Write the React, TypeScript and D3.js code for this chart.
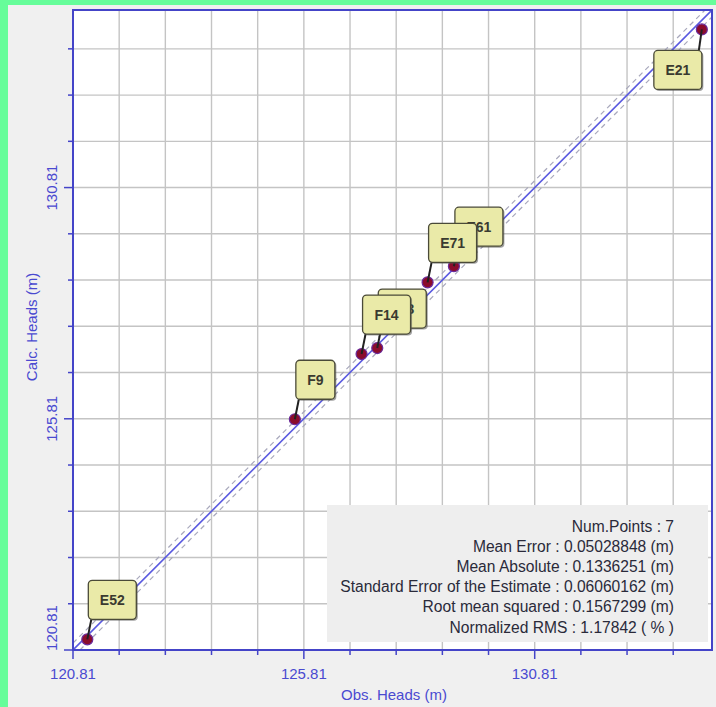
import React from "react";
import * as d3 from "d3";

// Observation wells: name, observed head, calculated head (m)
const wellNames = ["E52", "F9", "F13", "F14", "E61", "E71", "E21"];
const obsHeads = [121.12, 125.615, 127.40, 127.06, 129.06, 128.49, 134.43];
const calcHeads = [121.04, 125.80, 127.34, 127.21, 129.11, 128.76, 134.23];

const majorTicks = [120.81, 125.81, 130.81];
const minorTicks = d3.range(0, 14).map((i) => 120.81 + i);

const statLines = [
  "Num.Points : 7",
  "Mean Error : 0.05028848 (m)",
  "Mean Absolute : 0.1336251 (m)",
  "Standard Error of the Estimate : 0.06060162 (m)",
  "Root mean squared : 0.1567299 (m)",
  "Normalized RMS : 1.17842 ( % )",
];

const bandOffset = 0.15;
const domainMin = 120.81;
const domainMax = 134.65;

const W = 716;
const H = 707;
const plot = { left: 73, top: 10, right: 712, bottom: 650 };
const axisBlue = "#4444c8";
const labelBlue = "#4a4ad0";
const font = "Arial, 'Liberation Sans', sans-serif";

export default function App() {
  const x = d3.scaleLinear().domain([domainMin, domainMax]).range([plot.left, plot.right]);
  const y = d3.scaleLinear().domain([domainMin, domainMax]).range([plot.bottom, plot.top]);

  const diag = d3.line<number>().x((v) => x(v)).y((v) => y(v));
  const upper = d3.line<number>().x((v) => x(v)).y((v) => y(v + bandOffset));
  const lower = d3.line<number>().x((v) => x(v)).y((v) => y(v - bandOffset));
  const ends = [domainMin, domainMax];
  const upperEnds = [domainMin, domainMax - bandOffset];
  const lowerEnds = [domainMin + bandOffset, domainMax];

  const boxH = 39;
  const labels = wellNames.map((name, i) => {
    const px = x(obsHeads[i]);
    const py = y(calcHeads[i]);
    const w = 21 + 9 * name.length;
    const flip = px + w > plot.right - 2;
    const bx = flip ? px - w : px + 1;
    const by = flip ? py + 21 : py - 20 - boxH;
    const cx = flip ? px - 3 : px + 4;
    const cy = flip ? by : by + boxH;
    return { name, px, py, w, bx, by, cx, cy };
  });

  // keep the lowest y tick label inside the axis extent
  const yLabelPos = (t: number) => Math.min(y(t), plot.bottom - 22);

  return (
    <svg
      width={W}
      height={H}
      style={{ position: "absolute", left: 0, top: 0 }}
      xmlns="http://www.w3.org/2000/svg"
    >
      <rect x={0} y={0} width={W} height={H} fill="#f0f0f0" />
      <rect x={0} y={0} width={W} height={5} fill="#66fd9a" />
      <rect x={0} y={0} width={8} height={H} fill="#66fd9a" />

      <rect
        x={plot.left}
        y={plot.top}
        width={plot.right - plot.left}
        height={plot.bottom - plot.top}
        fill="#ffffff"
      />

      {/* grid */}
      {minorTicks.map((t) => (
        <g key={"g" + t}>
          <line x1={x(t)} x2={x(t)} y1={plot.top} y2={plot.bottom} stroke="#c4c4c4" strokeWidth={1.4} />
          <line x1={plot.left} x2={plot.right} y1={y(t)} y2={y(t)} stroke="#c4c4c4" strokeWidth={1.4} />
        </g>
      ))}

      {/* stats panel */}
      <rect x={327} y={505} width={381} height={137} fill="#eeeeee" />
      {statLines.map((s, i) => (
        <text
          key={s}
          x={674}
          y={526 + i * 20.2}
          textAnchor="end"
          dominantBaseline="central"
          fontFamily={font}
          fontSize={15.6}
          fill="#2a2a3a"
        >
          {s}
        </text>
      ))}

      {/* 1:1 line and bands */}
      <defs>
        <clipPath id="plotClip">
          <rect x={plot.left} y={plot.top} width={plot.right - plot.left} height={plot.bottom - plot.top} />
        </clipPath>
      </defs>
      <g clipPath="url(#plotClip)">
        <path d={upper(upperEnds) ?? ""} stroke="#a8a8bc" strokeWidth={1.2} strokeDasharray="5,4" fill="none" />
        <path d={lower(lowerEnds) ?? ""} stroke="#a8a8bc" strokeWidth={1.2} strokeDasharray="5,4" fill="none" />
        <path d={diag(ends) ?? ""} stroke="#5a5ae0" strokeWidth={1.6} fill="none" />
      </g>

      {/* frame */}
      <rect
        x={plot.left}
        y={plot.top}
        width={plot.right - plot.left}
        height={plot.bottom - plot.top}
        fill="none"
        stroke={axisBlue}
        strokeWidth={2}
      />

      {/* ticks */}
      {minorTicks.map((t) => {
        const major = majorTicks.some((m) => Math.abs(m - t) < 1e-6);
        const len = major ? 9 : 5;
        return (
          <g key={"t" + t}>
            <line x1={x(t)} x2={x(t)} y1={plot.bottom} y2={plot.bottom + len} stroke={axisBlue} strokeWidth={1.5} />
            <line x1={plot.left} x2={plot.left - len} y1={y(t)} y2={y(t)} stroke={axisBlue} strokeWidth={1.5} />
          </g>
        );
      })}
      {majorTicks.map((t) => (
        <g key={"l" + t}>
          <text
            x={x(t)}
            y={673}
            textAnchor="middle"
            dominantBaseline="central"
            fontFamily={font}
            fontSize={15}
            fill={labelBlue}
          >
            {t.toFixed(2)}
          </text>
          <text
            transform={`translate(51,${yLabelPos(t)}) rotate(-90)`}
            textAnchor="middle"
            dominantBaseline="central"
            fontFamily={font}
            fontSize={15}
            fill={labelBlue}
          >
            {t.toFixed(2)}
          </text>
        </g>
      ))}

      <text x={394} y={694} textAnchor="middle" dominantBaseline="central" fontFamily={font} fontSize={15} fill={labelBlue}>
        Obs. Heads (m)
      </text>
      <text
        transform={`translate(31,327) rotate(-90)`}
        textAnchor="middle"
        dominantBaseline="central"
        fontFamily={font}
        fontSize={15}
        fill={labelBlue}
      >
        Calc. Heads (m)
      </text>

      {/* points */}
      {labels.map((l) => (
        <circle key={"p" + l.name} cx={l.px} cy={l.py} r={5.5} fill="#8a0c2c" stroke="#6a2a9a" strokeWidth={1.2} />
      ))}

      {/* callout labels */}
      {labels.map((l) => (
        <g key={"c" + l.name}>
          <line x1={l.px} y1={l.py} x2={l.cx} y2={l.cy} stroke="#222" strokeWidth={2} />
          <rect x={l.bx + 1.5} y={l.by + 1.5} width={l.w} height={boxH} rx={4} fill="#555" opacity={0.55} />
          <rect x={l.bx} y={l.by} width={l.w} height={boxH} rx={4} fill="#eaeaa8" stroke="#4a4a38" strokeWidth={1.3} />
          <text
            x={l.bx + l.w / 2}
            y={l.by + boxH / 2}
            textAnchor="middle"
            dominantBaseline="central"
            fontFamily={font}
            fontSize={14}
            fontWeight="bold"
            fill="#3a3a30"
          >
            {l.name}
          </text>
        </g>
      ))}
    </svg>
  );
}
